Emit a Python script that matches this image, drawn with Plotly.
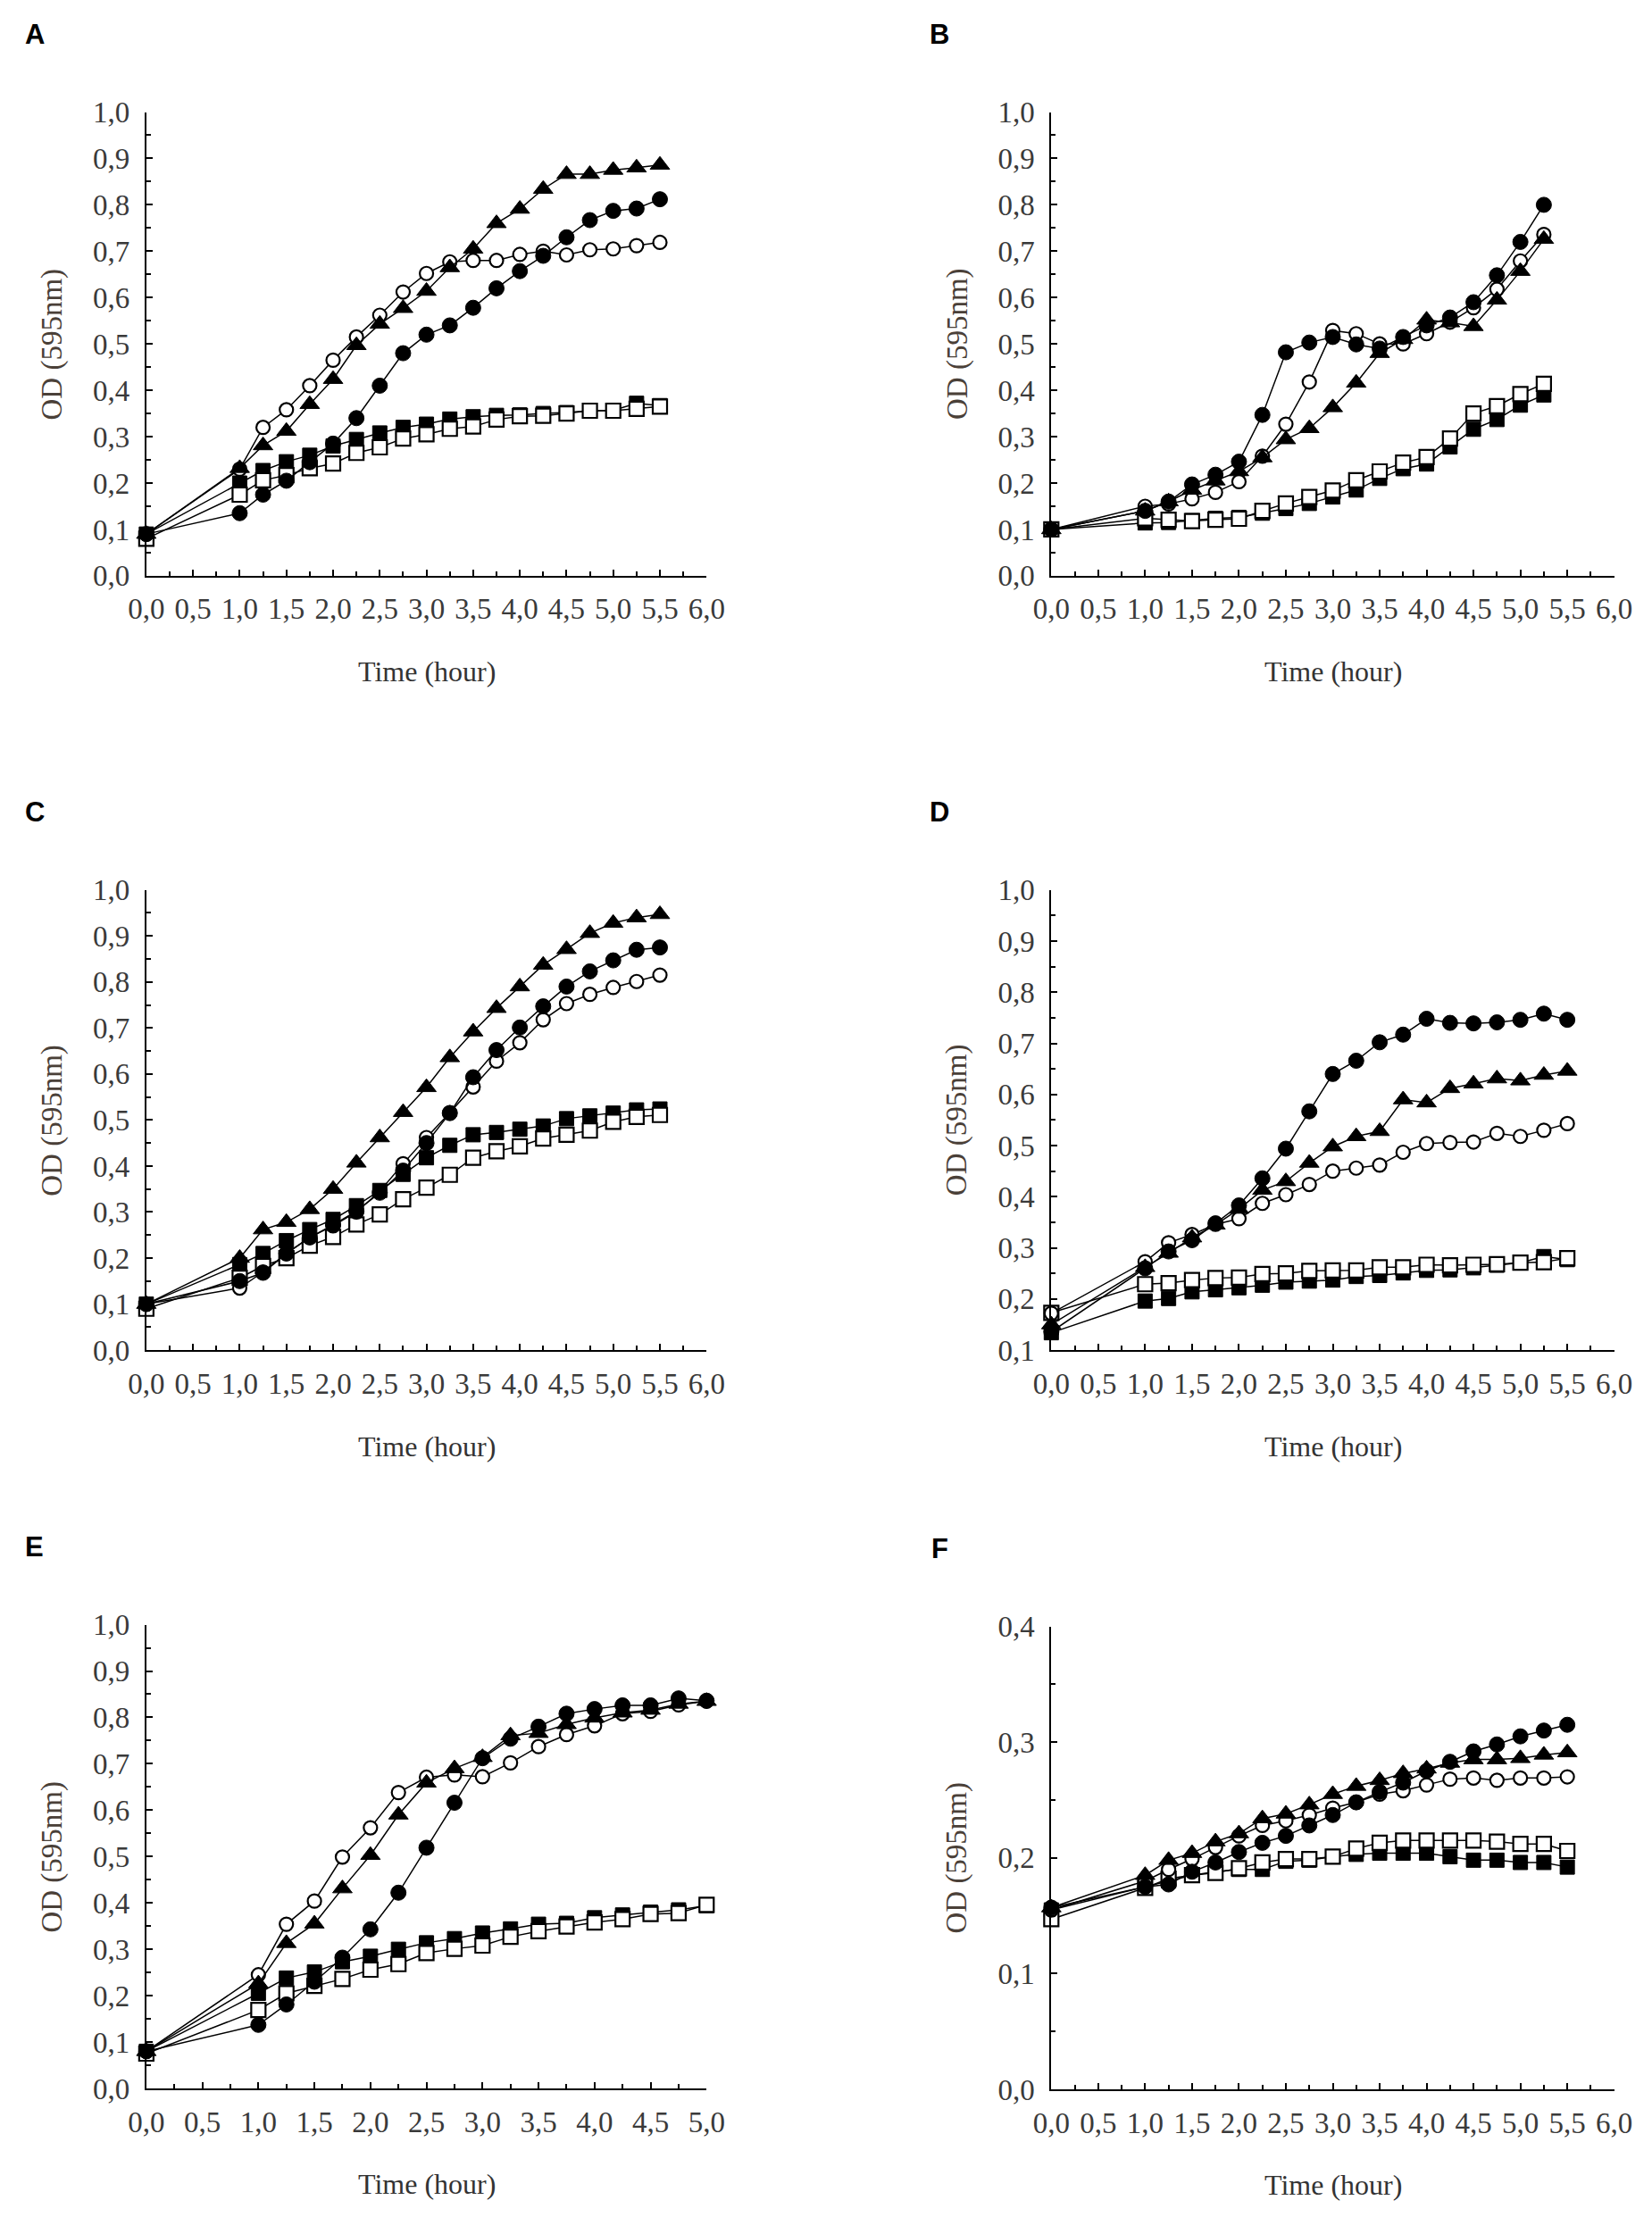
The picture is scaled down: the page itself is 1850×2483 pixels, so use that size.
import plotly.graph_objects as go

# time points (hours)
t_full = [0.0, 1.0, 1.25, 1.5, 1.75, 2.0, 2.25, 2.5, 2.75, 3.0, 3.25, 3.5,
          3.75, 4.0, 4.25, 4.5, 4.75, 5.0, 5.25, 5.5]
t_b = [0.0, 1.0, 1.25, 1.5, 1.75, 2.0, 2.25, 2.5, 2.75, 3.0, 3.25, 3.5,
       3.75, 4.0, 4.25, 4.5, 4.75, 5.0, 5.25]
t_e = [0.0, 1.0, 1.25, 1.5, 1.75, 2.0, 2.25, 2.5, 2.75, 3.0, 3.25, 3.5,
       3.75, 4.0, 4.25, 4.5, 4.75, 5.0]

# panel A
a_filled_circle = [0.09, 0.135, 0.175, 0.205, 0.245, 0.285, 0.34, 0.41, 0.48, 0.52, 0.54,
                   0.578, 0.62, 0.657, 0.69, 0.73, 0.767, 0.787, 0.792, 0.812]
a_open_circle = [0.09, 0.23, 0.32, 0.358, 0.41, 0.465, 0.515, 0.562, 0.612, 0.652, 0.677,
                 0.68, 0.68, 0.693, 0.70, 0.692, 0.703, 0.705, 0.712, 0.719]
a_filled_triangle = [0.09, 0.232, 0.281, 0.312, 0.37, 0.424, 0.497, 0.543, 0.577, 0.614, 0.665,
                     0.705, 0.76, 0.791, 0.834, 0.866, 0.866, 0.875, 0.88, 0.886]
a_filled_square = [0.09, 0.20, 0.227, 0.246, 0.26, 0.28, 0.294, 0.308, 0.32, 0.327, 0.338,
                   0.343, 0.346, 0.347, 0.35, 0.352, 0.356, 0.357, 0.372, 0.367]
a_open_square = [0.08, 0.175, 0.206, 0.217, 0.232, 0.242, 0.265, 0.277, 0.296, 0.305, 0.317,
                 0.322, 0.337, 0.344, 0.345, 0.35, 0.356, 0.356, 0.36, 0.365]

# panel B
b_filled_circle = [0.10, 0.14, 0.16, 0.197, 0.218, 0.246, 0.347, 0.482, 0.503, 0.515, 0.499,
                   0.49, 0.515, 0.54, 0.557, 0.59, 0.648, 0.72, 0.80]
b_open_circle = [0.10, 0.15, 0.155, 0.166, 0.18, 0.203, 0.258, 0.327, 0.418, 0.529, 0.522,
                 0.50, 0.50, 0.522, 0.547, 0.578, 0.618, 0.679, 0.736]
b_filled_triangle = [0.10, 0.14, 0.16, 0.185, 0.205, 0.225, 0.255, 0.294, 0.318, 0.363, 0.416,
                     0.48, 0.51, 0.552, 0.546, 0.538, 0.595, 0.657, 0.726]
b_filled_square = [0.10, 0.114, 0.115, 0.119, 0.124, 0.126, 0.135, 0.145, 0.156, 0.17, 0.185,
                   0.21, 0.231, 0.241, 0.278, 0.316, 0.337, 0.368, 0.39]
b_open_square = [0.10, 0.124, 0.121, 0.118, 0.121, 0.123, 0.14, 0.156, 0.17, 0.184, 0.206,
                 0.225, 0.244, 0.256, 0.296, 0.35, 0.366, 0.392, 0.414]

# panel C
c_filled_circle = [0.10, 0.15, 0.168, 0.21, 0.245, 0.272, 0.302, 0.342, 0.39, 0.45, 0.515,
                   0.593, 0.652, 0.701, 0.747, 0.79, 0.823, 0.847, 0.87, 0.875]
c_open_circle = [0.10, 0.135, 0.17, 0.21, 0.245, 0.27, 0.30, 0.345, 0.405, 0.462, 0.516,
                 0.572, 0.628, 0.668, 0.718, 0.753, 0.773, 0.788, 0.801, 0.815]
c_filled_triangle = [0.10, 0.20, 0.262, 0.278, 0.306, 0.35, 0.407, 0.462, 0.517, 0.571, 0.636,
                     0.692, 0.743, 0.79, 0.837, 0.871, 0.906, 0.928, 0.94, 0.947]
c_filled_square = [0.10, 0.186, 0.21, 0.238, 0.262, 0.284, 0.314, 0.347, 0.382, 0.418, 0.445,
                   0.468, 0.473, 0.48, 0.487, 0.503, 0.509, 0.515, 0.522, 0.524]
c_open_square = [0.09, 0.157, 0.183, 0.20, 0.227, 0.246, 0.273, 0.295, 0.328, 0.353, 0.381,
                 0.418, 0.432, 0.443, 0.46, 0.468, 0.477, 0.496, 0.507, 0.511]

# panel D
d_filled_circle = [0.136, 0.26, 0.293, 0.315, 0.348, 0.383, 0.436, 0.494, 0.567, 0.64, 0.666,
                   0.702, 0.717, 0.748, 0.74, 0.739, 0.741, 0.746, 0.758, 0.746]
d_open_circle = [0.172, 0.273, 0.31, 0.326, 0.346, 0.357, 0.387, 0.404, 0.424, 0.45, 0.456,
                 0.462, 0.487, 0.504, 0.506, 0.507, 0.524, 0.518, 0.53, 0.543]
d_filled_triangle = [0.15, 0.262, 0.29, 0.32, 0.345, 0.376, 0.413, 0.43, 0.466, 0.498, 0.518,
                     0.528, 0.59, 0.584, 0.612, 0.621, 0.631, 0.627, 0.638, 0.646]
d_filled_square = [0.134, 0.196, 0.201, 0.214, 0.218, 0.222, 0.227, 0.233, 0.235, 0.237, 0.244,
                   0.246, 0.251, 0.256, 0.257, 0.261, 0.266, 0.271, 0.283, 0.277]
d_open_square = [0.173, 0.229, 0.231, 0.237, 0.241, 0.242, 0.249, 0.25, 0.255, 0.256, 0.256,
                 0.262, 0.262, 0.267, 0.266, 0.267, 0.268, 0.271, 0.272, 0.28]

# panel E
e_filled_circle = [0.08, 0.137, 0.181, 0.23, 0.282, 0.343, 0.422, 0.519, 0.616, 0.712, 0.754,
                   0.78, 0.808, 0.818, 0.826, 0.826, 0.841, 0.836]
e_open_circle = [0.08, 0.245, 0.354, 0.404, 0.499, 0.562, 0.638, 0.671, 0.676, 0.672, 0.702,
                 0.737, 0.763, 0.782, 0.808, 0.813, 0.827, 0.835]
e_filled_triangle = [0.08, 0.226, 0.313, 0.355, 0.431, 0.503, 0.59, 0.659, 0.69, 0.714, 0.761,
                     0.766, 0.785, 0.799, 0.81, 0.816, 0.829, 0.835]
e_filled_square = [0.08, 0.205, 0.238, 0.251, 0.273, 0.285, 0.30, 0.314, 0.323, 0.335, 0.344,
                   0.354, 0.356, 0.368, 0.374, 0.38, 0.385, 0.394]
e_open_square = [0.075, 0.169, 0.205, 0.221, 0.236, 0.256, 0.268, 0.292, 0.301, 0.308, 0.327,
                 0.339, 0.349, 0.358, 0.365, 0.376, 0.378, 0.396]

# panel F
f_filled_circle = [0.157, 0.175, 0.177, 0.188, 0.196, 0.205, 0.213, 0.219, 0.228, 0.237, 0.248,
                   0.257, 0.265, 0.275, 0.283, 0.292, 0.298, 0.305, 0.31, 0.315]
f_open_circle = [0.155, 0.18, 0.19, 0.199, 0.209, 0.219, 0.228, 0.232, 0.237, 0.243, 0.248,
                 0.255, 0.258, 0.263, 0.268, 0.269, 0.267, 0.269, 0.269, 0.27]
f_filled_triangle = [0.157, 0.185, 0.198, 0.204, 0.214, 0.221, 0.234, 0.238, 0.246, 0.255, 0.262,
                     0.267, 0.273, 0.277, 0.282, 0.285, 0.285, 0.286, 0.289, 0.291]
f_filled_square = [0.155, 0.175, 0.18, 0.185, 0.188, 0.19, 0.19, 0.197, 0.198, 0.201, 0.203,
                   0.204, 0.204, 0.204, 0.201, 0.198, 0.198, 0.196, 0.196, 0.192]
f_open_square = [0.147, 0.174, 0.182, 0.185, 0.187, 0.191, 0.196, 0.199, 0.199, 0.201, 0.208,
                 0.213, 0.215, 0.215, 0.215, 0.215, 0.214, 0.212, 0.212, 0.206]

W, H = 1850, 2483
OFF = 8  # page body margin shifts the figure by 8px

# plot boxes in pixels: left, right, top, bottom
panels = [
    dict(letter="A", t=t_full, box=(146, 788, 110, 637), xr=6.0, yr=(0.0, 1.0),
         series=[a_filled_square, a_open_square, a_open_circle, a_filled_triangle, a_filled_circle]),
    dict(letter="B", t=t_b, box=(1183, 1828, 110, 637), xr=6.0, yr=(0.0, 1.0),
         series=[b_filled_square, b_open_square, b_open_circle, b_filled_triangle, b_filled_circle]),
    dict(letter="C", t=t_full, box=(146, 788, 994, 1517), xr=6.0, yr=(0.0, 1.0),
         series=[c_filled_square, c_open_square, c_open_circle, c_filled_triangle, c_filled_circle]),
    dict(letter="D", t=t_full, box=(1183, 1828, 994, 1517), xr=6.0, yr=(0.1, 1.0),
         series=[d_filled_square, d_open_square, d_open_circle, d_filled_triangle, d_filled_circle]),
    dict(letter="E", t=t_e, box=(146, 788, 1829, 2356), xr=5.0, yr=(0.0, 1.0),
         series=[e_filled_square, e_open_square, e_open_circle, e_filled_triangle, e_filled_circle]),
    dict(letter="F", t=t_full, box=(1183, 1828, 1831, 2357), xr=6.0, yr=(0.0, 0.4),
         series=[f_filled_square, f_open_square, f_open_circle, f_filled_triangle, f_filled_circle]),
]

styles = [
    dict(symbol="square", size=16, color="black", line=dict(color="black", width=1)),
    dict(symbol="square", size=16, color="white", line=dict(color="black", width=2.2)),
    dict(symbol="circle", size=15, color="white", line=dict(color="black", width=2.2)),
    dict(symbol="triangle-up", size=19, color="black", line=dict(color="black", width=1)),
    dict(symbol="circle", size=17, color="black", line=dict(color="black", width=1)),
]

tick_font = dict(family="Liberation Serif", size=33, color="#3a3a3a")
od_font = dict(family="Liberation Serif", size=33, color="#4a4038")
time_font = dict(family="Liberation Serif", size=32, color="#333333")


def px_x(v):
    return (v - OFF) / W


def px_y(v):
    return 1 - (v - OFF) / H


fig = go.Figure()

for i, p in enumerate(panels):
    n = "" if i == 0 else str(i + 1)
    l, r, top, bot = p["box"]

    for vals, st in zip(p["series"], styles):
        fig.add_trace(go.Scatter(
            x=p["t"], y=vals, mode="lines+markers",
            line=dict(color="black", width=1.5),
            marker=st, cliponaxis=False, showlegend=False,
            xaxis="x" + n, yaxis="y" + n,
        ))

    ymin, ymax = p["yr"]
    fig.layout["xaxis" + n] = dict(
        domain=[px_x(l), px_x(r)], anchor="y" + n, range=[0, p["xr"]],
        tickmode="linear", tick0=0, dtick=0.5, tickformat=".1f",
        ticks="inside", ticklen=7, tickwidth=1.5, tickcolor="black",
        minor=dict(dtick=0.25, ticks="inside", ticklen=5, tickwidth=1.5, tickcolor="black"),
        showline=True, linecolor="black", linewidth=2,
        showgrid=False, zeroline=False, tickfont=tick_font, ticklabelstandoff=7,
    )
    fig.layout["yaxis" + n] = dict(
        domain=[px_y(bot), px_y(top)], anchor="x" + n, range=[ymin, ymax],
        tickmode="linear", tick0=0, dtick=0.1, tickformat=".1f",
        ticks="inside", ticklen=7, tickwidth=1.5, tickcolor="black",
        minor=dict(dtick=0.05, ticks="inside", ticklen=5, tickwidth=1.5, tickcolor="black"),
        showline=True, linecolor="black", linewidth=2,
        showgrid=False, zeroline=False, tickfont=tick_font, ticklabelstandoff=10,
    )

    # axis titles and panel letter
    fig.add_annotation(x=px_x((l + r) / 2), y=px_y(bot + 109), xref="paper", yref="paper",
                       text="Time (hour)", showarrow=False, font=time_font,
                       xanchor="center", yanchor="middle")
    fig.add_annotation(x=px_x(l - 108), y=px_y((top + bot) / 2), xref="paper", yref="paper",
                       text="OD (595nm)", textangle=-90, showarrow=False, font=od_font,
                       xanchor="center", yanchor="middle")
    fig.add_annotation(x=px_x(l - 128), y=px_y(top - 88), xref="paper", yref="paper",
                       text="<b>" + p["letter"] + "</b>", showarrow=False,
                       font=dict(family="Liberation Sans", size=31, color="black"),
                       xanchor="center", yanchor="middle")

fig.update_layout(
    width=W, height=H,
    margin=dict(l=0, r=0, t=0, b=0),
    paper_bgcolor="white", plot_bgcolor="white",
    separators=",.",
    showlegend=False,
)

fig.write_html("out.html")
